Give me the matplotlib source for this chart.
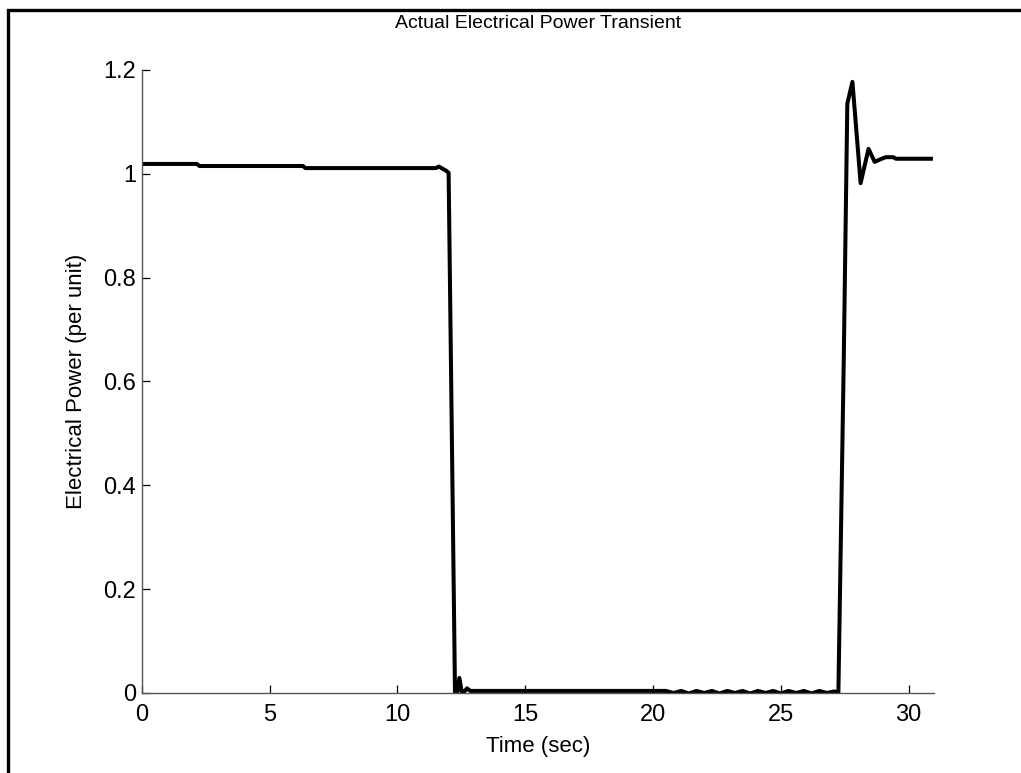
import matplotlib.pyplot as plt
from matplotlib.patches import Rectangle

plt.rcParams['font.family'] = ['Liberation Sans', 'DejaVu Sans']

# time (sec) and electrical power (per unit)
t = [0.0, 2.15, 2.25, 6.3, 6.4, 11.5, 11.62, 11.72, 11.9, 12.0,
     12.25, 12.32, 12.42, 12.52, 12.62, 12.72, 12.85, 20.5,
     20.8, 21.1, 21.4, 21.7, 22.0, 22.3, 22.6, 22.9, 23.2, 23.5,
     23.8, 24.1, 24.4, 24.7, 25.0, 25.3, 25.6, 25.9, 26.2, 26.5,
     26.8, 27.1, 27.25,
     27.46, 27.6, 27.8, 28.12, 28.43, 28.67, 28.9, 29.1, 29.4, 29.5, 30.87]
p = [1.019, 1.019, 1.015, 1.015, 1.011, 1.011, 1.014, 1.011, 1.006, 1.002,
     0.0, -0.004, 0.029, 0.0, 0.003, 0.009, 0.004, 0.004,
     0.0, 0.004, -0.001, 0.004, 0.0, 0.004, -0.001, 0.004, 0.0, 0.004,
     -0.001, 0.004, 0.0, 0.004, -0.001, 0.004, 0.0, 0.004, -0.001, 0.004,
     0.0, 0.003, 0.0,
     0.64, 1.135, 1.177, 0.982, 1.048, 1.023, 1.028, 1.032, 1.032, 1.029, 1.029]

fig = plt.figure(figsize=(10.21, 7.73), dpi=100)
ax = fig.add_axes([0.139, 0.1035, 0.776, 0.806])

ax.plot(t, p, color='black', linewidth=2.9, solid_joinstyle='round')

ax.set_xlim(0, 31)
ax.set_ylim(0, 1.2)
ax.set_xticks([0, 5, 10, 15, 20, 25, 30])
ax.set_yticks([0, 0.2, 0.4, 0.6, 0.8, 1.0, 1.2])
ax.set_yticklabels(['0', '0.2', '0.4', '0.6', '0.8', '1', '1.2'])

for side in ['top', 'right']:
    ax.spines[side].set_visible(False)
for side in ['left', 'bottom']:
    ax.spines[side].set_color('#555555')
    ax.spines[side].set_linewidth(1.0)
ax.tick_params(direction='in', length=6, width=0.9, labelsize=17,
               color='black')
ax.tick_params(axis='x', pad=8)
ax.tick_params(axis='y', pad=4)

ax.set_title('Actual Electrical Power Transient', fontsize=14, pad=30.5)
ax.set_xlabel('Time (sec)', fontsize=16, labelpad=7)
ax.set_ylabel('Electrical Power (per unit)', fontsize=16, labelpad=12)

# outer frame
fig.patches.append(Rectangle((0.0075, -0.05), 1.1, 1.0375, transform=fig.transFigure,
                             fill=False, edgecolor='black', linewidth=2.4))

fig.savefig('out.png', dpi=100)
